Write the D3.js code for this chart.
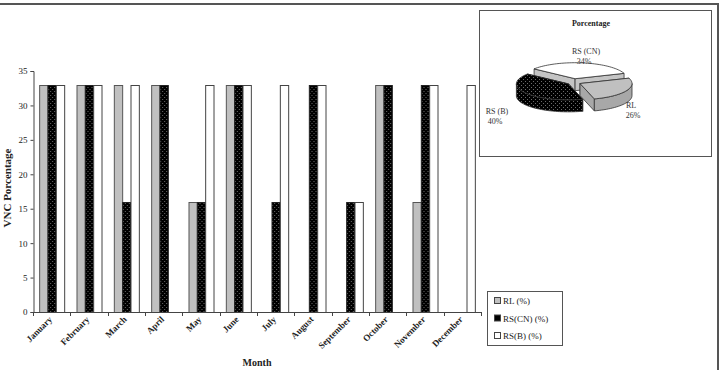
<!DOCTYPE html>
<html>
<head>
<meta charset="utf-8">
<script src="https://cdn.jsdelivr.net/npm/d3@7"></script>
<style>
  body { margin: 0; background: #fff; }
  svg { display: block; font-family: "Liberation Serif", "DejaVu Serif", serif; }
</style>
</head>
<body>
<svg width="723" height="370"></svg>
<script>
// Data
const months = ["January", "February", "March", "April", "May", "June", "July",
  "August", "September", "October", "November", "December"];
const seriesNames = ["RL (%)", "RS(CN) (%)", "RS(B) (%)"];
const rl   = [33, 33, 33, 33, 16, 33, 0, 0, 0, 33, 16, 0];
const rsCN = [33, 33, 16, 33, 16, 33, 16, 33, 16, 33, 33, 0];
const rsB  = [33, 33, 33, 0, 33, 33, 33, 33, 16, 0, 33, 33];
const yTicks = [0, 5, 10, 15, 20, 25, 30, 35];

const pieNames = ["RS (CN)", "RL", "RS (B)"];
const pieValues = [34, 26, 40];

const svg = d3.select("svg");

// patterns
const defs = svg.append("defs");
const pat = defs.append("pattern").attr("id", "dots")
  .attr("width", 4).attr("height", 4).attr("patternUnits", "userSpaceOnUse");
pat.append("rect").attr("width", 4).attr("height", 4).attr("fill", "#000");
pat.append("rect").attr("x", 1).attr("y", 1).attr("width", 1).attr("height", 1).attr("fill", "#6a6a6a");
pat.append("rect").attr("x", 3).attr("y", 3).attr("width", 1).attr("height", 1).attr("fill", "#6a6a6a");

const fills = ["#c0c0c0", "url(#dots)", "#ffffff"];
const strokes = ["#555", "#222", "#444"];

// outer frame
svg.append("line").attr("x1", 0).attr("x2", 719).attr("y1", 4).attr("y2", 4)
  .attr("stroke", "#555").attr("stroke-width", 2);
svg.append("line").attr("x1", 718).attr("x2", 718).attr("y1", 4).attr("y2", 370)
  .attr("stroke", "#555").attr("stroke-width", 2);

// bar chart scales
const x0 = d3.scaleBand().domain(months).range([33, 481]).paddingInner(0.33).paddingOuter(0.165);
const x1 = d3.scaleBand().domain([0, 1, 2]).range([0, x0.bandwidth()]);
const y = d3.scaleLinear().domain([0, 35]).range([312, 71]);
const xEdge = d3.scaleLinear().domain([0, 12]).range([33, 481]);

const table = months.map((m, i) => ({ month: m, vals: [rl[i], rsCN[i], rsB[i]] }));

const groups = svg.append("g").selectAll("g").data(table).enter().append("g")
  .attr("transform", d => `translate(${x0(d.month)},0)`);
groups.selectAll("rect").data(d => d.vals.map((v, k) => ({ v, k })).filter(e => e.v > 0))
  .enter().append("rect")
  .attr("x", e => x1(e.k) + 0.5)
  .attr("width", x1.bandwidth())
  .attr("y", e => Math.round(y(e.v)) + 0.5)
  .attr("height", e => 312 - Math.round(y(e.v)))
  .attr("fill", e => fills[e.k])
  .attr("stroke", e => strokes[e.k])
  .attr("stroke-width", 1);

// y axis
const yAxis = svg.append("g").attr("transform", "translate(33.5,0)")
  .call(d3.axisLeft(y).tickValues(yTicks).tickSize(3).tickPadding(3));
yAxis.select(".domain").attr("stroke", "#444");
yAxis.selectAll(".tick line").attr("stroke", "#444");
yAxis.selectAll("text").attr("font-family", "Liberation Serif").attr("font-size", 9).attr("fill", "#222");

// x axis
svg.append("line").attr("x1", 33).attr("x2", 481).attr("y1", 312.5).attr("y2", 312.5)
  .attr("stroke", "#444");
svg.append("g").selectAll("line").data(d3.range(13)).enter().append("line")
  .attr("x1", d => Math.round(xEdge(d)) + 0.5).attr("x2", d => Math.round(xEdge(d)) + 0.5)
  .attr("y1", 312).attr("y2", 316).attr("stroke", "#444");
svg.append("g").selectAll("text").data(months).enter().append("text")
  .attr("transform", d => `translate(${x0(d) + x0.bandwidth() / 2 + 1},320) rotate(-45)`)
  .attr("text-anchor", "end")
  .attr("font-size", 9).attr("font-weight", "bold").attr("fill", "#222")
  .text(d => d);

svg.append("text").attr("x", 257).attr("y", 366).attr("text-anchor", "middle")
  .attr("font-size", 10).attr("font-weight", "bold").attr("fill", "#222").text("Month");
svg.append("text").attr("transform", "translate(11,188) rotate(-90)")
  .attr("text-anchor", "middle").attr("font-size", 11).attr("font-weight", "bold")
  .attr("fill", "#222").text("VNC Porcentage");

// legend
svg.append("rect").attr("x", 487.5).attr("y", 291.5).attr("width", 75).attr("height", 54)
  .attr("fill", "#fff").attr("stroke", "#555");
const leg = svg.append("g").selectAll("g").data(seriesNames).enter().append("g")
  .attr("transform", (d, i) => `translate(494,${297 + i * 17.5})`);
leg.append("rect").attr("x", 0.5).attr("y", 0.5).attr("width", 6).attr("height", 6)
  .attr("fill", (d, i) => i === 1 ? "#000" : fills[i]).attr("stroke", "#444");
leg.append("text").attr("x", 9).attr("y", 7).attr("font-size", 9).attr("fill", "#222").text(d => d);

// pie box
svg.append("rect").attr("x", 479.5).attr("y", 10.5).attr("width", 232).attr("height", 146)
  .attr("fill", "#fff").attr("stroke", "#555");
svg.append("text").attr("x", 591).attr("y", 26).attr("text-anchor", "middle")
  .attr("font-size", 8).attr("font-weight", "bold").attr("fill", "#222").text("Porcentage");

// 3D pie
const cx = 574, cy = 82, rx = 52, ry = 16, depth = 12, explode = 0.13;
const a0 = -52 * Math.PI / 180;
const arcs = d3.pie().sort(null).startAngle(a0).endAngle(a0 + 2 * Math.PI)(pieValues);
const topFill = ["#ffffff", "#c0c0c0", "url(#dots)"];
const sideFill = ["#c4c4c4", "#a8a8a8", "url(#dots)"];

function pt(t, o, z) {
  return [cx + o[0] + rx * Math.sin(t), cy + o[1] - ry * Math.cos(t) + z];
}
function arcPts(t0, t1, o, z) {
  const n = Math.max(2, Math.ceil(Math.abs(t1 - t0) / 0.05));
  return d3.range(n + 1).map(i => pt(t0 + (t1 - t0) * i / n, o, z));
}
const line = d3.line();
const pieG = svg.append("g").attr("stroke", "#333").attr("stroke-width", 0.8).attr("stroke-linejoin", "round");
// back to front: CN first, then RS(B), then RL
[0, 2, 1].forEach(i => {
  const a = arcs[i];
  const mid = (a.startAngle + a.endAngle) / 2;
  const o = [rx * explode * Math.sin(mid), -ry * explode * 1.6 * Math.cos(mid)];
  const c = [cx + o[0], cy + o[1]];
  // radial faces
  [a.startAngle, a.endAngle].forEach(t => {
    const e = pt(t, o, 0), eb = pt(t, o, depth);
    pieG.append("path").attr("d", line([c, e, eb, [c[0], c[1] + depth]]) + "Z")
      .attr("fill", sideFill[i]);
  });
  // outer wall, front half only
  const w0 = Math.max(a.startAngle, Math.PI / 2), w1 = Math.min(a.endAngle, 3 * Math.PI / 2);
  if (w1 > w0) {
    const pts = arcPts(w0, w1, o, 0).concat(arcPts(w1, w0, o, depth));
    pieG.append("path").attr("d", line(pts) + "Z").attr("fill", sideFill[i]);
  }
  // top face
  pieG.append("path").attr("d", line([c].concat(arcPts(a.startAngle, a.endAngle, o, 0))) + "Z")
    .attr("fill", topFill[i]);
});

// pie labels
const pieLabelPos = [[586, 54], [631, 108], [497, 114]];
const pl = svg.append("g").selectAll("g").data(pieNames).enter().append("g");
pl.append("text").attr("x", (d, i) => pieLabelPos[i][0]).attr("y", (d, i) => pieLabelPos[i][1])
  .attr("text-anchor", "middle").attr("font-size", 8).attr("fill", "#333").text(d => d);
pl.append("text").attr("x", (d, i) => pieLabelPos[i][0] + (i === 1 ? 2 : -2)).attr("y", (d, i) => pieLabelPos[i][1] + 10)
  .attr("text-anchor", "middle").attr("font-size", 8).attr("fill", "#333").text((d, i) => pieValues[i] + "%");
</script>
</body>
</html>
